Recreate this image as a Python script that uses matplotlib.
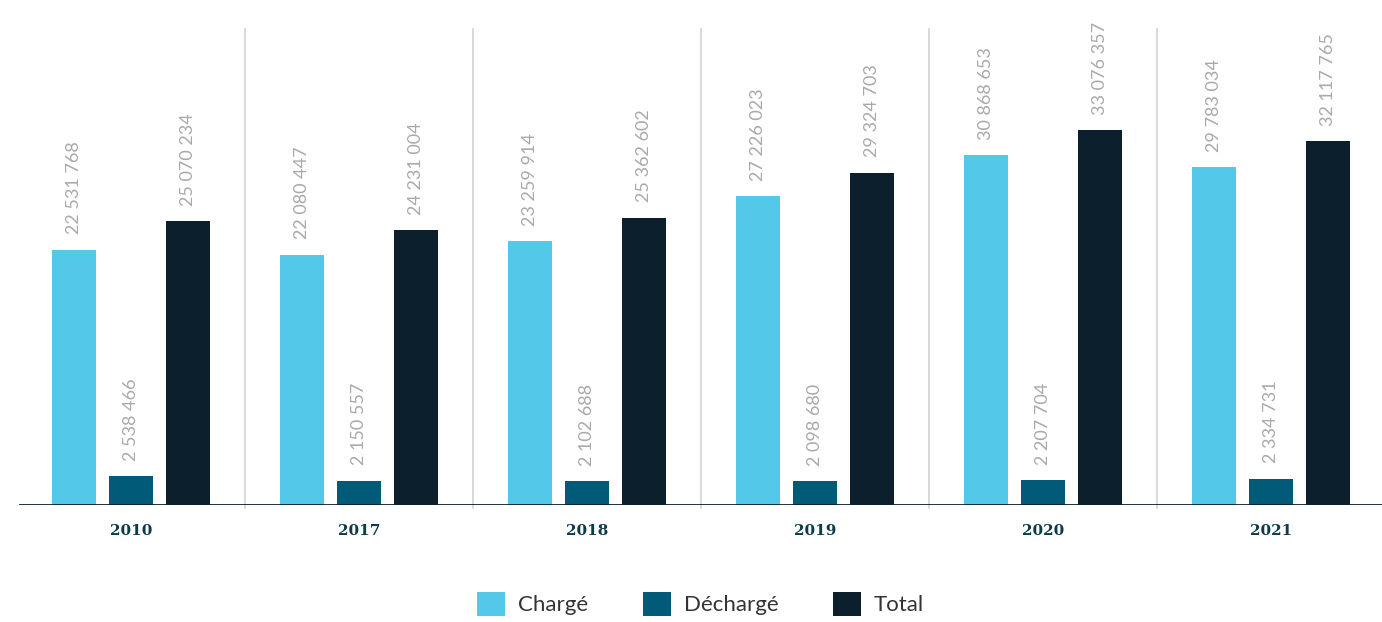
import matplotlib
matplotlib.use("Agg")
import matplotlib.pyplot as plt
import numpy as np
from matplotlib.patches import Patch

years = ["2010", "2017", "2018", "2019", "2020", "2021"]
charge = [22531768, 22080447, 23259914, 27226023, 30868653, 29783034]
decharge = [2538466, 2150557, 2102688, 2098680, 2207704, 2334731]
total = [25070234, 24231004, 25362602, 29324703, 33076357, 32117765]

series_names = ["Chargé", "Déchargé", "Total"]
series_colors = ["#54C8E8", "#005A78", "#0B1F2C"]

fig = plt.figure(figsize=(13.82, 6.22), dpi=100)
ax = fig.add_axes([17 / 1382, 117 / 622, 1368 / 1382, 476 / 622])

x = np.arange(len(years))
width = 0.197
step = 0.25
label_color = "#A9A9A9"

for i, (vals, col) in enumerate(zip([charge, decharge, total], series_colors)):
    pos = x + (i - 1) * step
    ax.bar(pos, vals, width=width, color=col, zorder=3)
    for px, v in zip(pos, vals):
        ax.annotate(f"{v:,}".replace(",", " "), (px, v), xytext=(0, 11),
                    textcoords="offset points", rotation=90, ha="center",
                    va="bottom", color=label_color, fontsize=13,
                    family="Lato")

for sep in x[:-1] + 0.5:
    ax.axvline(sep, ymin=-0.006, ymax=1, color="#D3D3D3", lw=1.2, zorder=1,
               clip_on=False)

ax.axhline(0, xmin=0.002, xmax=1, color="#0B1F2C", lw=2, zorder=4)

ax.set_xlim(-0.5, 5.5)
ax.set_ylim(0, 42_000_000)
ax.set_xticks(x)
ax.set_xticklabels(years, fontsize=11, fontweight="bold", family="DejaVu Serif",
                   color="#0D3B4A")
ax.tick_params(axis="x", length=0, pad=14)
ax.set_yticks([])
for s in ax.spines.values():
    s.set_visible(False)

handles = [Patch(facecolor=c, edgecolor="none") for c in series_colors]
leg = fig.legend(handles, series_names, loc="center", bbox_to_anchor=(0.507, 0.029),
                 ncol=3, frameon=False, handlelength=1.25, handleheight=1.25,
                 handletextpad=0.6, columnspacing=2.45,
                 prop={"family": "Lato", "size": 16})
for t in leg.get_texts():
    t.set_color("#333333")

fig.savefig("out.png", dpi=100)
